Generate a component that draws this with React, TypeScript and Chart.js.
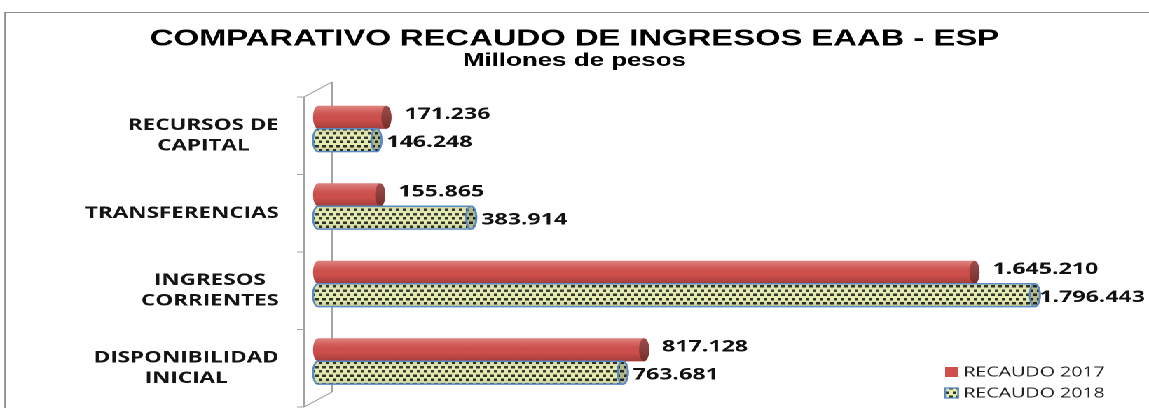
import React, { useEffect, useRef } from "react";
import { Chart, registerables } from "chart.js";

Chart.register(...registerables);

// ---------- data ----------
const CATEGORIES: string[][] = [
  ["RECURSOS DE", "CAPITAL"],
  ["TRANSFERENCIAS"],
  ["INGRESOS", "CORRIENTES"],
  ["DISPONIBILIDAD", "INICIAL"],
];
const SERIES_LABELS = ["RECAUDO 2017", "RECAUDO 2018"];
const RECAUDO_2017 = [171236, 155865, 1645210, 817128];
const RECAUDO_2018 = [146248, 383914, 1796443, 763681];
const TITLE = "COMPARATIVO RECAUDO DE INGRESOS EAAB - ESP";
const SUBTITLE = "Millones de pesos";
const X_MAX = 2000000;

// ---------- style ----------
const CANVAS_W = 820;
const CANVAS_H = 408;
const STRETCH = 1149 / CANVAS_W;
const RED = "#cf4f4c";
const RED_CAP = "#8c3431";
const GREEN_BG = "#e5edb0";
const DOT = "#2f2f2a";
const BLUE = "#5a8ac6";
const CAP_RX = 3.6;
const FRONT_DY = 7;
const BACK_DY = -8;

const fmt = (v: number) => String(v).replace(/\B(?=(\d{3})+(?!\d))/g, ".");

function makePattern(ctx: CanvasRenderingContext2D): CanvasPattern | string {
  const c = document.createElement("canvas");
  c.width = 20;
  c.height = 17;
  const p = c.getContext("2d");
  if (!p) return GREEN_BG;
  p.fillStyle = GREEN_BG;
  p.fillRect(0, 0, 20, 17);
  p.fillStyle = DOT;
  p.fillRect(0, 1, 5, 5);
  p.fillRect(10, 1, 5, 5);
  p.fillRect(5, 9, 5, 5);
  p.fillRect(15, 9, 5, 5);
  const pat = ctx.createPattern(c, "repeat");
  if (!pat) return GREEN_BG;
  try {
    pat.setTransform(new DOMMatrix().scale(0.5, 0.5));
  } catch (e) {
    /* ignore */
  }
  return pat;
}

export default function App() {
  const ref = useRef<HTMLCanvasElement | null>(null);

  useEffect(() => {
    const canvas = ref.current;
    if (!canvas) return;
    const ctx0 = canvas.getContext("2d") as CanvasRenderingContext2D;
    const pattern = makePattern(ctx0);

    const borderPlugin = {
      id: "frame",
      beforeDraw(chart: any) {
        const ctx = chart.ctx;
        ctx.save();
        ctx.fillStyle = "#ffffff";
        ctx.fillRect(0, 0, chart.width, chart.height);
        ctx.strokeStyle = "#8a8a8a";
        ctx.lineWidth = 1;
        ctx.strokeRect(3.6, 12.5, 2000, 2000);
        ctx.restore();
      },
    };

    const axisPlugin = {
      id: "axis3d",
      beforeDatasetsDraw(chart: any) {
        const { ctx, chartArea } = chart;
        const yScale = chart.scales.y;
        const { left, top, bottom } = chartArea;
        const fx = left - 10;
        const bx = left + 10;
        ctx.save();
        ctx.strokeStyle = "#a3a3a3";
        ctx.lineWidth = 1;
        ctx.beginPath();
        ctx.moveTo(fx, top + FRONT_DY);
        ctx.lineTo(fx, bottom + FRONT_DY);
        ctx.moveTo(bx, top + BACK_DY);
        ctx.lineTo(bx, bottom + BACK_DY);
        ctx.moveTo(fx, top + FRONT_DY);
        ctx.lineTo(bx, top + BACK_DY);
        ctx.moveTo(bx, bottom + BACK_DY);
        ctx.lineTo(fx, bottom + FRONT_DY);
        const band = Math.abs(yScale.getPixelForValue(1) - yScale.getPixelForValue(0));
        const first = yScale.getPixelForValue(0) - band / 2;
        for (let i = 0; i <= CATEGORIES.length; i++) {
          const yy = first + i * band + FRONT_DY;
          ctx.moveTo(fx - 5, yy);
          ctx.lineTo(fx, yy);
        }
        ctx.stroke();
        ctx.restore();
      },
    };

    const cylinderPlugin = {
      id: "cylinders",
      afterDatasetsDraw(chart: any) {
        const ctx = chart.ctx;
        chart.data.datasets.forEach((_ds: any, di: number) => {
          const meta = chart.getDatasetMeta(di);
          meta.data.forEach((el: any) => {
            const { x, y, base, height } = el.getProps(["x", "y", "base", "height"], true);
            const ry = height / 2;
            const rx = CAP_RX;
            const top = y - ry;
            const bottom = y + ry;
            ctx.save();
            ctx.beginPath();
            ctx.moveTo(base, top);
            ctx.lineTo(x, top);
            ctx.ellipse(x, y, rx, ry, 0, -Math.PI / 2, Math.PI / 2);
            ctx.lineTo(base, bottom);
            ctx.ellipse(base, y, rx, ry, 0, Math.PI / 2, (Math.PI * 3) / 2);
            ctx.closePath();
            ctx.fillStyle = di === 0 ? RED : pattern;
            ctx.fill();
            const g = ctx.createLinearGradient(0, top, 0, bottom);
            if (di === 0) {
              g.addColorStop(0, "rgba(255,255,255,0.30)");
              g.addColorStop(0.25, "rgba(255,255,255,0.10)");
              g.addColorStop(0.6, "rgba(0,0,0,0)");
              g.addColorStop(1, "rgba(0,0,0,0.22)");
            } else {
              g.addColorStop(0, "rgba(0,0,0,0.10)");
              g.addColorStop(0.35, "rgba(255,255,255,0.08)");
              g.addColorStop(0.7, "rgba(0,0,0,0)");
              g.addColorStop(1, "rgba(0,0,0,0.15)");
            }
            ctx.fillStyle = g;
            ctx.fill();
            if (di === 1) {
              ctx.strokeStyle = BLUE;
              ctx.lineWidth = 1.4;
              ctx.stroke();
            }
            // right end cap
            ctx.beginPath();
            ctx.ellipse(x, y, rx, ry, 0, 0, Math.PI * 2);
            if (di === 0) {
              ctx.fillStyle = RED_CAP;
              ctx.fill();
              const cg = ctx.createLinearGradient(0, top, 0, bottom);
              cg.addColorStop(0, "rgba(255,255,255,0.12)");
              cg.addColorStop(1, "rgba(0,0,0,0.15)");
              ctx.fillStyle = cg;
              ctx.fill();
            } else {
              ctx.fillStyle = pattern;
              ctx.fill();
              ctx.fillStyle = "rgba(0,0,0,0.22)";
              ctx.fill();
              ctx.strokeStyle = BLUE;
              ctx.lineWidth = 1.4;
              ctx.stroke();
            }
            ctx.restore();
          });
        });
      },
    };

    const valueLabelPlugin = {
      id: "valueLabels",
      afterDatasetsDraw(chart: any) {
        const ctx = chart.ctx;
        ctx.save();
        ctx.font = 'bold 16.5px "Open Sans"';
        ctx.fillStyle = "#111111";
        ctx.textAlign = "left";
        ctx.textBaseline = "middle";
        chart.data.datasets.forEach((ds: any, di: number) => {
          const meta = chart.getDatasetMeta(di);
          meta.data.forEach((el: any, i: number) => {
            const { x, y } = el.getProps(["x", "y"], true);
            const text = fmt(ds.data[i]);
            const w = ctx.measureText(text).width;
            const gap = di === 0 ? 13 / STRETCH : 5 / STRETCH;
            let tx = x + CAP_RX + gap;
            const limit = chart.width - 4 / STRETCH;
            if (tx + w > limit) tx = Math.max(x, limit - w);
            const dy = di === 0 ? -3 : 2;
            ctx.fillText(text, tx, y + dy);
          });
        });
        ctx.restore();
      },
    };

    const categoryLabelPlugin = {
      id: "categoryLabels",
      afterDraw(chart: any) {
        const { ctx, chartArea } = chart;
        const yScale = chart.scales.y;
        ctx.save();
        ctx.font = 'bold 16px "Open Sans"';
        ctx.fillStyle = "#141414";
        ctx.textAlign = "center";
        ctx.textBaseline = "middle";
        const right = chartArea.left - 28;
        (chart.data.labels as string[][]).forEach((lines, i) => {
          const yc = yScale.getPixelForValue(i) + FRONT_DY;
          const w = Math.max(...lines.map((l) => ctx.measureText(l).width));
          lines.forEach((l, j) => {
            ctx.fillText(l, right - w / 2, yc + (j - (lines.length - 1) / 2) * 20.5);
          });
        });
        ctx.restore();
      },
    };

    const legendPlugin = {
      id: "cornerLegend",
      afterDraw(chart: any) {
        const { ctx, chartArea } = chart;
        ctx.save();
        ctx.font = '14px "Open Sans"';
        ctx.textAlign = "left";
        ctx.textBaseline = "middle";
        const bx = chartArea.right - 122;
        chart.data.datasets.forEach((ds: any, di: number) => {
          const yy = chartArea.bottom - 28 + di * 21;
          if (di === 0) {
            ctx.fillStyle = RED;
            ctx.fillRect(bx, yy - 5, 9.3, 10);
          } else {
            ctx.fillStyle = pattern;
            ctx.fillRect(bx, yy - 5, 9.3, 10);
            ctx.strokeStyle = BLUE;
            ctx.lineWidth = 1.3;
            ctx.strokeRect(bx, yy - 5, 9.3, 10);
          }
          ctx.fillStyle = "#222222";
          ctx.fillText(ds.label, bx + 13, yy + 0.5);
        });
        ctx.restore();
      },
    };

    const chart = new Chart(canvas, {
      type: "bar",
      data: {
        labels: CATEGORIES as any,
        datasets: [
          {
            label: SERIES_LABELS[0],
            data: RECAUDO_2017,
            backgroundColor: RED,
            borderWidth: 0,
            categoryPercentage: 0.59,
            barPercentage: 1.0,
          },
          {
            label: SERIES_LABELS[1],
            data: RECAUDO_2018,
            backgroundColor: pattern as any,
            borderWidth: 0,
            categoryPercentage: 0.59,
            barPercentage: 1.0,
          },
        ],
      },
      options: {
        indexAxis: "y",
        responsive: false,
        animation: false,
        devicePixelRatio: 2,
        events: [],
        layout: { padding: { left: 0, right: 0, top: 0, bottom: 8 } },
        scales: {
          x: { display: false, min: 0, max: X_MAX, grid: { display: false } },
          y: {
            display: true,
            position: "left",
            ticks: { display: false },
            grid: { display: false, drawTicks: false },
            border: { display: false },
            afterFit: (s: any) => {
              s.width = 227;
            },
          },
          y2: {
            type: "linear",
            display: true,
            position: "right",
            ticks: { display: false },
            grid: { display: false, drawTicks: false },
            border: { display: false },
            afterFit: (s: any) => {
              s.width = 23.5;
            },
          },
        },
        plugins: {
          legend: { display: false },
          tooltip: { enabled: false },
          title: {
            display: true,
            text: TITLE,
            color: "#000000",
            font: { family: '"Liberation Sans", Arial, sans-serif', size: 23.4, weight: "bold", lineHeight: 1 },
            padding: { top: 27.3, bottom: 0 },
          },
          subtitle: {
            display: true,
            text: SUBTITLE,
            color: "#000000",
            font: { family: '"Liberation Sans", Arial, sans-serif', size: 18.5, weight: "bold", lineHeight: 1 },
            padding: { top: 1, bottom: 19.8 },
          },
        },
      } as any,
      plugins: [borderPlugin, axisPlugin, cylinderPlugin, valueLabelPlugin, categoryLabelPlugin, legendPlugin],
    });

    return () => chart.destroy();
  }, []);

  return (
    <div
      style={{
        position: "fixed",
        left: 0,
        top: 0,
        width: CANVAS_W + "px",
        height: CANVAS_H + "px",
        transform: `scaleX(${STRETCH})`,
        transformOrigin: "0 0",
        background: "#ffffff",
      }}
    >
      <canvas ref={ref} width={CANVAS_W} height={CANVAS_H} />
    </div>
  );
}
